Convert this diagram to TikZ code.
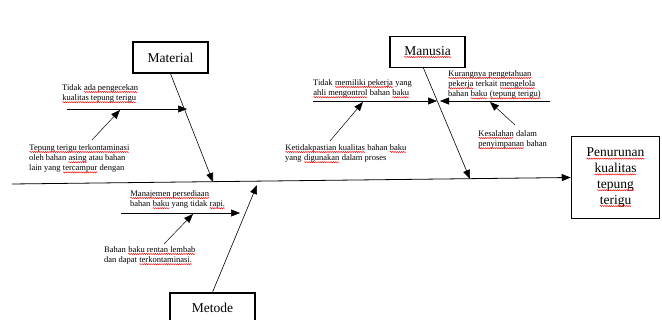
\documentclass[tikz,border=0pt]{standalone}
\usepackage{fontspec}
\setmainfont{Liberation Serif}
\usetikzlibrary{arrows.meta,decorations.pathmorphing}
\newcommand\sq[1]{\tikz[baseline=(w.base),x=1cm,y=1cm]{\node[inner sep=0pt,outer sep=0pt,anchor=base,draw=none,minimum width=0pt,minimum height=0pt,align=left] (w) at (0,0) {#1};
  \draw[red,line width=0.45pt,decorate,decoration={snake,amplitude=0.6pt,segment length=2.2pt}] ([yshift=-1.9pt]w.base west) -- ([yshift=-1.9pt]w.base east);}}
\tikzset{
  catbox/.style={draw, line width=1.5pt, minimum width=75pt, minimum height=31pt, inner sep=0pt, font=\fontsize{13.5}{15}\selectfont},
  note/.style={anchor=north west, align=left, inner sep=0pt, font=\fontsize{8.5}{10.2}\selectfont},
  bone/.style={draw, line width=0.6pt, -{Triangle[length=9pt,width=7pt]}},
  thin/.style={draw, line width=0.5pt, -{Triangle[length=9pt,width=7pt]}}
}
\begin{document}
\begin{tikzpicture}[x=1pt,y=-1pt]
\useasboundingbox (0,0) rectangle (662,320);
\clip (0,0) rectangle (662,320);
% boxes
\node[catbox] (mat) at (170.5,57.5) {Material};
\node[catbox] (man) at (427.5,52) {\sq{Manusia}};
\node[catbox, minimum width=85pt, minimum height=30pt] (met) at (212.5,308) {Metode};
\node[draw, line width=1.5pt, minimum width=88pt, minimum height=82pt, align=center, inner sep=0pt,
      font=\fontsize{13.5}{15.8}\selectfont] (eff) at (615.5,177.5)
      {\sq{Penurunan}\\\sq{kualitas}\\\sq{tepung}\\\sq{terigu}};
% spine
\coordinate (s0) at (12,184);
\draw[bone, line width=0.8pt] (s0) -- (eff.west);
% main bones
\coordinate (mEnd) at (213,182);
\coordinate (nEnd) at (470,179);
\coordinate (tEnd) at (257,185);
\coordinate (nStart) at (423,67);
\draw[bone] (mat.south) -- (mEnd);
\draw[bone] (nStart) -- (nEnd);
\draw[bone] (met.north) -- (tEnd);
% Material causes
\coordinate (a0) at (67,109); \coordinate (a1) at (187,109);
\draw[thin] (a0) -- (a1);
\node[note] (t1) at (62,84) {Tidak \sq{ada pengecekan}\\\sq{kualitas tepung terigu}};
\coordinate (b0) at (92,140); \coordinate (b1) at (120,110);
\draw[thin] (b0) -- (b1);
\node[note] (t2) at (29,144) {\sq{Tepung terigu terkontaminasi}\\oleh bahan \sq{asing} atau bahan\\lain yang \sq{tercampur} dengan};
% Metode causes
\coordinate (c0) at (121,213); \coordinate (c1) at (240,213);
\draw[thin] (c0) -- (c1);
\node[note] (t3) at (130,190) {\sq{Manajemen persediaan}\\bahan \sq{baku} yang tidak \sq{rapi.}};
\coordinate (d0) at (164,244); \coordinate (d1) at (193,214);
\draw[thin] (d0) -- (d1);
\node[note] (t4) at (104,246) {Bahan \sq{baku rentan lembab}\\dan dapat \sq{terkontaminasi.}};
% Manusia causes
\coordinate (e0) at (313,101); \coordinate (e1) at (437,101);
\draw[thin] (e0) -- (e1);
\node[note] (t5) at (313,79) {Tidak \sq{memiliki pekerja} yang\\\sq{ahli mengontrol} bahan \sq{baku}};
\coordinate (f0) at (330,141); \coordinate (f1) at (363,102);
\draw[thin] (f0) -- (f1);
\node[note] (t6) at (285,144) {\sq{Ketidakpastian kualitas} bahan \sq{baku}\\yang \sq{digunakan} dalam proses};
\coordinate (g0) at (550,101); \coordinate (g1) at (440,101);
\draw[thin] (g0) -- (g1);
\node[note] (t7) at (448,70) {\sq{Kurangnya pengetahuan}\\\sq{pekerja} terkait \sq{mengelola}\\bahan \sq{baku} \sq{(tepung terigu)}};
\coordinate (h0) at (515,125); \coordinate (h1) at (490,102);
\draw[thin] (h0) -- (h1);
\node[note] (t8) at (478,130) {\sq{Kesalahan} dalam\\\sq{penyimpanan} bahan};
\end{tikzpicture}
\end{document}
